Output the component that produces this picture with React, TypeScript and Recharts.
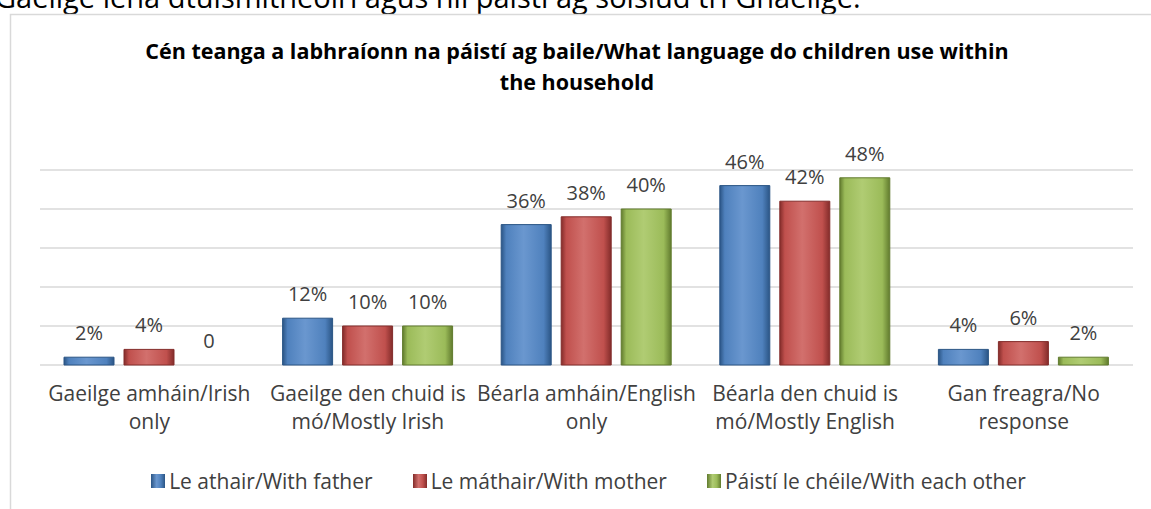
import React from "react";
import { BarChart, Bar, XAxis, YAxis, CartesianGrid, LabelList, Legend, Cell } from "recharts";

const categories = [
  "Gaeilge amháin/Irish\nonly",
  "Gaeilge den chuid is\nmó/Mostly Irish",
  "Béarla amháin/English\nonly",
  "Béarla den chuid is\nmó/Mostly English",
  "Gan freagra/No\nresponse",
];
const father = [2, 12, 36, 46, 4];
const mother = [4, 10, 38, 42, 6];
const eachOther = [0, 10, 40, 48, 2];
const yTicks = [0, 10, 20, 30, 40, 50];

const seriesNames = ["Le athair/With father", "Le máthair/With mother", "Páistí le chéile/With each other"];
const colors = ["#4f81bd", "#c0504d", "#9bbb59"];
const darks = ["#2b5585", "#832c2a", "#617b2e"];
const lights = ["#6a97cf", "#d2706d", "#b0cc73"];

const data = categories.map((c, i) => ({
  name: c,
  father: father[i],
  mother: mother[i],
  eachOther: eachOther[i],
}));

const FONT = "'Open Sans', sans-serif";

const fmt = (v: any) => (v === 0 ? "0" : `${v}%`);

function CategoryTick(props: any) {
  const { x, y, payload } = props;
  const lines = String(payload.value).split("\n");
  return (
    <text x={x} y={y} textAnchor="middle" fill="#404040" fontSize={21} fontFamily={FONT}>
      {lines.map((l, i) => (
        <tspan key={i} x={x} dy={28}>
          {l}
        </tspan>
      ))}
    </text>
  );
}

function LegendContent() {
  return (
    <div
      style={{
        display: "flex",
        justifyContent: "center",
        gap: 40,
        height: 28,
        lineHeight: "28px",
        fontFamily: FONT,
        fontSize: 21,
        color: "#404040",
        paddingLeft: 26,
      }}
    >
      {seriesNames.map((n, i) => (
        <div key={n} style={{ display: "flex", alignItems: "center", whiteSpace: "nowrap" }}>
          <span
            style={{
              display: "inline-block",
              width: 14,
              height: 14,
              marginRight: 4,
              background: `linear-gradient(90deg, ${darks[i]}, ${lights[i]} 40%, ${colors[i]} 70%, ${darks[i]})`,
            }}
          />
          {n}
        </div>
      ))}
    </div>
  );
}

export default function App() {
  const keys = ["father", "mother", "eachOther"];
  const series = [father, mother, eachOther];
  return (
    <div style={{ position: "absolute", left: 0, top: 0, width: 1151, height: 509, overflow: "hidden", background: "#fff" }}>
      <svg width={1151} height={509} style={{ position: "absolute", left: 0, top: 0 }}>
        <text x={-5} y={8} fontFamily={FONT} fontSize={29} fill="#000">
          Gaeilge lena dtuismitheoirí agus níl páistí ag soisiúd trí Ghaeilge.
        </text>
        <rect x={10.5} y={14.5} width={1200} height={600} fill="none" stroke="#d9d9d9" strokeWidth={1.5} />
        <text x={577} textAnchor="middle" fontFamily={FONT} fontWeight={700} fontSize={21.5} fill="#000">
          <tspan x={577} y={59}>Cén teanga a labhraíonn na páistí ag baile/What language do children use within</tspan>
          <tspan x={577} y={90}>the household</tspan>
        </text>
      </svg>
      <div style={{ position: "absolute", left: 0, top: 0 }}>
        <BarChart
          width={1151}
          height={509}
          data={data}
          margin={{ top: 170, right: 18, left: 40, bottom: 56 }}
          barSize={50}
          barGap={10}
        >
          <defs>
            {keys.map((k, i) => (
              <linearGradient key={k} id={`g-${k}`} x1="0" y1="0" x2="1" y2="0">
                <stop offset="0%" stopColor={darks[i]} />
                <stop offset="10%" stopColor={colors[i]} />
                <stop offset="45%" stopColor={lights[i]} />
                <stop offset="85%" stopColor={colors[i]} />
                <stop offset="100%" stopColor={darks[i]} />
              </linearGradient>
            ))}
          </defs>
          <CartesianGrid vertical={false} stroke="#d9d9d9" strokeWidth={1.5} />
          <YAxis hide domain={[0, 50]} ticks={yTicks} />
          <XAxis
            dataKey="name"
            axisLine={false}
            tickLine={false}
            interval={0}
            height={60}
            tick={<CategoryTick />}
          />
          <Legend
            verticalAlign="bottom"
            height={28}
            content={<LegendContent />}
            wrapperStyle={{ position: "absolute", left: 0, top: 467, width: 1151, height: 28 }}
          />
          {keys.map((k, i) => (
            <Bar
              key={k}
              dataKey={k}
              name={seriesNames[i]}
              fill={`url(#g-${k})`}
              stroke={darks[i]}
              strokeWidth={1}
              minPointSize={(v: any) => (v === 0 ? 0.01 : 0)}
              isAnimationActive={false}
            >
              {series[i].map((v, j) => (
                <Cell key={j} stroke={v === 0 ? "none" : darks[i]} />
              ))}
              <LabelList dataKey={k} position="top" offset={17} formatter={fmt} fill="#404040" fontSize={20} fontFamily={FONT} />
            </Bar>
          ))}
        </BarChart>
      </div>
    </div>
  );
}
